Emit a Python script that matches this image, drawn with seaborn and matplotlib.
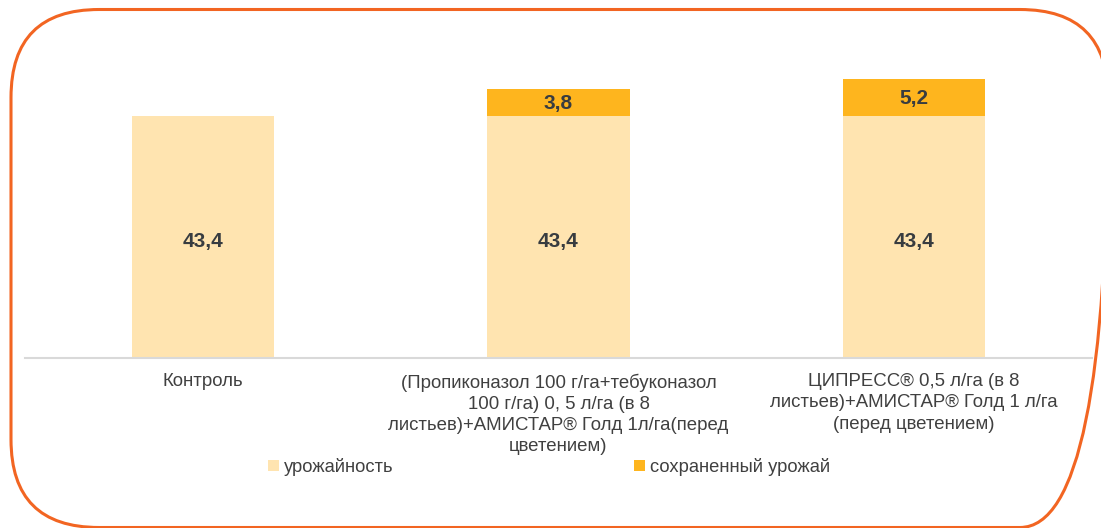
import matplotlib
matplotlib.use("Agg")
import matplotlib.pyplot as plt
from matplotlib.patches import FancyBboxPatch, Patch
import seaborn as sns
import pandas as pd

categories = [
    "Контроль",
    "(Пропиконазол 100 г/га+тебуконазол\n100 г/га) 0, 5 л/га (в 8\nлистьев)+АМИСТАР® Голд 1л/га(перед\nцветением)",
    "ЦИПРЕСС® 0,5 л/га (в 8\nлистьев)+АМИСТАР® Голд 1 л/га\n(перед цветением)",
]
yield_base = [43.4, 43.4, 43.4]
yield_saved = [0.0, 3.8, 5.2]
series_names = ["урожайность", "сохраненный урожай"]

c_base = "#FFE4B0"
c_saved = "#FEB51E"
c_text = "#404040"
c_val = "#383C40"

sns.set_theme(style="white")
plt.rcParams["font.family"] = ["Liberation Sans", "DejaVu Sans"]

W, H = 1101, 528
fig = plt.figure(figsize=(W / 100, H / 100), dpi=100)

# overlay axes in pixel units for the rounded frame
bg = fig.add_axes([0, 0, 1, 1], zorder=-1)
bg.set_xlim(0, W)
bg.set_ylim(H, 0)
bg.axis("off")
frame = FancyBboxPatch((11, 9.5), 1097, 518, boxstyle="round,pad=0,rounding_size=88",
                       facecolor="none", edgecolor="#F26522", linewidth=2.2,
                       clip_on=False)
bg.add_patch(frame)

ax = fig.add_axes([25 / W, 1 - 358 / H, 1067 / W, (358 - 40) / H])
ax.patch.set_alpha(0)

df = pd.DataFrame({"cat": categories, "base": yield_base, "saved": yield_saved})
sns.barplot(data=df, x="cat", y="base", color=c_base, width=0.4,
            linewidth=0, saturation=1, ax=ax)
sns.barplot(data=df, x="cat", y="saved", bottom=df["base"], color=c_saved,
            width=0.4, linewidth=0, saturation=1, ax=ax)

y0 = 9.8
ax.set_ylim(y0, y0 + 318 / 7.2)
ax.set_xlim(-0.5, 2.5)

def fmt(v):
    return f"{v:.1f}".replace(".", ",")

for i, (b, s) in enumerate(zip(yield_base, yield_saved)):
    ax.annotate(fmt(b), xy=(i, (y0 + b) / 2), xytext=(0, -3.5),
                textcoords="offset points", ha="center", va="center",
                fontsize=15, fontweight="bold", color=c_val)
    if s > 0:
        ax.annotate(fmt(s), xy=(i, b + s / 2), xytext=(0, -0.5),
                    textcoords="offset points", ha="center", va="center",
                    fontsize=15, fontweight="bold", color=c_val)

for sp in ["top", "right", "left"]:
    ax.spines[sp].set_visible(False)
ax.spines["bottom"].set_color("#D9D9D9")
ax.spines["bottom"].set_linewidth(1.5)
ax.set_yticks([])
ax.set_xlabel("")
ax.set_ylabel("")
ax.tick_params(axis="x", length=0, pad=11, labelsize=13.4, labelcolor=c_text)
for lbl in ax.get_xticklabels():
    lbl.set_multialignment("center")
    lbl.set_linespacing(1.32)

handles = [Patch(facecolor=c_base, edgecolor="none"),
           Patch(facecolor=c_saved, edgecolor="none")]
fig.legend(handles, series_names, loc="center", bbox_to_anchor=(549 / W, 1 - 467 / H),
           ncol=2, frameon=False, fontsize=13.2, labelcolor=c_text,
           handlelength=0.6, handleheight=0.6, handletextpad=0.3,
           columnspacing=13.1)

fig.savefig("out.png", dpi=100)
